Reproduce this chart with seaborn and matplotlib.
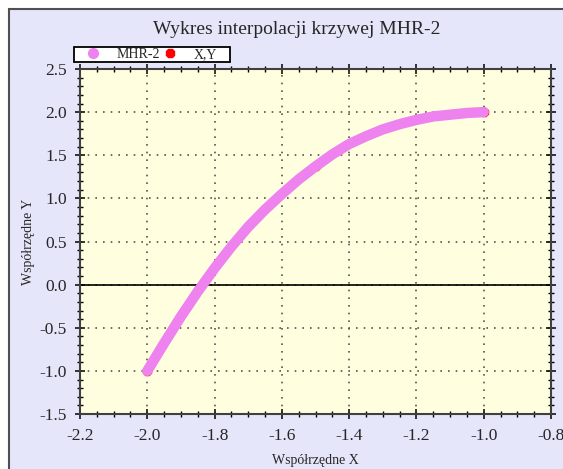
import matplotlib
matplotlib.use("Agg")
import matplotlib.pyplot as plt
from matplotlib.patches import Rectangle
from matplotlib.lines import Line2D
from matplotlib.ticker import MultipleLocator
import seaborn as sns
import pandas as pd

# ---- data ----
curve_x = [-2.00, -1.95, -1.90, -1.85, -1.80, -1.75, -1.70, -1.65, -1.60, -1.55,
           -1.50, -1.45, -1.40, -1.35, -1.30, -1.25, -1.20, -1.15, -1.10, -1.05, -1.00]
curve_y = [-1.00, -0.68, -0.37, -0.08, 0.19, 0.44, 0.67, 0.87, 1.05, 1.22,
           1.37, 1.51, 1.63, 1.72, 1.80, 1.86, 1.91, 1.95, 1.97, 1.99, 2.00]
node_x = [-2.0, -1.5, -1.0]
node_y = [-1.0, 1.38, 2.0]

title = "Wykres interpolacji krzywej MHR-2"
xlabel = "Współrzędne X"
ylabel = "Współrzędne Y"
series_names = ["MHR-2", "X,Y"]
xticks = [-2.2, -2.0, -1.8, -1.6, -1.4, -1.2, -1.0, -0.8]
yticks = [-1.5, -1.0, -0.5, 0.0, 0.5, 1.0, 1.5, 2.0, 2.5]

sns.set_style("ticks")
plt.rcParams["font.family"] = ["Liberation Serif", "DejaVu Serif"]

W, H = 563, 469
fig = plt.figure(figsize=(W / 100, H / 100), dpi=100)
fig.patch.set_facecolor("white")

# lavender panel with dark border
panel = Rectangle((9 / W, -0.01), 1.0, (H - 9) / H + 0.01, transform=fig.transFigure,
                  facecolor="#E6E6FA", edgecolor="#505050", linewidth=1.5, zorder=-5)
fig.patches.append(panel)

L, R, T, B = 80, 551, 69, 414
ax = fig.add_axes([L / W, 1 - B / H, (R - L) / W, (B - T) / H])
ax.set_zorder(1)
ax.set_facecolor("#FFFFE0")

df = pd.DataFrame({"x": curve_x, "y": curve_y})
dn = pd.DataFrame({"x": node_x, "y": node_y})

ax.axhline(0, color="black", linewidth=1.2, zorder=2)
sns.scatterplot(data=dn, x="x", y="y", ax=ax, color="red", marker="8", s=55,
                linewidth=0, zorder=3, legend=False)
sns.lineplot(data=df, x="x", y="y", ax=ax, color="#EE82EE", linewidth=7.5, sort=False,
             legend=False, zorder=4, solid_capstyle="round")

ax.set_xlim(-2.2, -0.8)
ax.set_ylim(-1.5, 2.5)
ax.set_xticks(xticks)
ax.set_yticks(yticks)
ax.set_xticklabels([f"{v:.1f}" for v in xticks])
ax.set_yticklabels([f"{v:.1f}" for v in yticks])
ax.xaxis.set_minor_locator(MultipleLocator(0.05))
ax.yaxis.set_minor_locator(MultipleLocator(0.1))
ax.tick_params(which="both", direction="inout", top=True, right=True, color="black",
               labelsize=12.5)
ax.tick_params(axis="x", which="major", pad=6.5)
ax.tick_params(axis="y", which="major", pad=6)
ax.tick_params(which="major", length=7, width=1.1)
ax.tick_params(which="minor", length=4, width=1.0)
for s in ax.spines.values():
    s.set_color("#404040")
    s.set_linewidth(1.5)

ax.grid(True, which="major", color="#555555", linestyle=(0, (1, 3.6)), linewidth=1.2)
ax.set_axisbelow(True)

ax.set_xlabel(xlabel, fontsize=10, labelpad=7.5)
ax.set_ylabel(ylabel, fontsize=10, labelpad=3)

fig.text(297 / W, 1 - 29 / H, title, ha="center", va="center", fontsize=14)

# legend box
fig.patches.append(Rectangle((74 / W, 1 - 62 / H), 156 / W, 15 / H, transform=fig.transFigure,
                             facecolor="white", edgecolor="black", linewidth=1.3, zorder=2))
handles = [Line2D([], [], marker="o", color="#EE82EE", linestyle="", markersize=7),
           Line2D([], [], marker="8", color="red", linestyle="", markersize=7)]
leg = fig.legend(handles, series_names, loc="center left",
                 bbox_to_anchor=(84 / W, 1 - 54.5 / H), ncol=2, fontsize=10,
                 frameon=False, borderpad=0, handlelength=1.3, handletextpad=1.05,
                 columnspacing=0.05, borderaxespad=0)
leg.set_zorder(3)

fig.savefig("out.png", dpi=100)
